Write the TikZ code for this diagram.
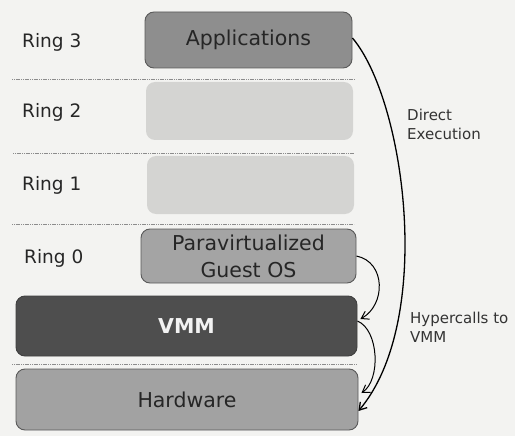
\documentclass[tikz,border=0pt]{standalone}
\usepackage{fontspec}
\setmainfont{DejaVu Sans}
\usetikzlibrary{arrows.meta}
\definecolor{paper}{HTML}{F3F3F1}
\definecolor{appfill}{HTML}{8E8E8E}
\definecolor{emptyfill}{HTML}{D4D4D2}
\definecolor{osfill}{HTML}{A4A4A4}
\definecolor{vmmfill}{HTML}{4E4E4E}
\definecolor{hwfill}{HTML}{A2A2A2}
\definecolor{edge}{HTML}{5A5A5A}
\tikzset{
  layer/.style={rectangle, rounded corners=9pt, draw=edge, line width=0.9pt,
    inner sep=0pt, align=center, text=black!85,
    font=\fontsize{20.5}{27}\selectfont},
  ringlabel/.style={anchor=west, inner sep=0pt, text=black!85,
    font=\fontsize{18.5}{22}\selectfont},
  sidenote/.style={anchor=north west, inner sep=0pt, align=left, text=black!80,
    font=\fontsize{15}{19}\selectfont},
  sep/.style={draw=black!45, line width=0.8pt, dash pattern=on 1.2pt off 0.6pt},
  flow/.style={draw=black, -{Straight Barb[length=7pt,width=9pt]}},
}
\begin{document}
\begin{tikzpicture}[x=1pt, y=-1pt]
  \fill[paper] (0,0) rectangle (515,436);
  \useasboundingbox (0,0) rectangle (515,436);

  % ring separators
  \draw[sep] (12,79) -- (355,79);
  \draw[sep] (13,153) -- (354,153);
  \draw[sep] (12,224) -- (354,224);
  \draw[sep] (12,364) -- (356,364);

  % layers
  \node[layer, fill=appfill, minimum width=207pt, minimum height=56pt] (app) at (248.5,40) {Applications};
  \node[layer, fill=emptyfill, draw=none, minimum width=207pt, minimum height=58pt] (r2) at (249.5,111) {};
  \node[layer, fill=emptyfill, draw=none, minimum width=207pt, minimum height=58pt] (r1) at (250.5,185) {};
  \node[layer, fill=osfill, minimum width=215pt, minimum height=54pt] (guest) at (248.5,256) {Paravirtualized\\Guest OS};
  \node[layer, fill=vmmfill, draw=black!75, text=white!95!black, minimum width=341pt, minimum height=60pt,
        font=\fontsize{20.5}{24}\selectfont\bfseries] (vmm) at (186.5,326) {VMM};
  \node[layer, fill=hwfill, minimum width=342pt, minimum height=61pt] (hw) at (187,399.5) {Hardware};

  % ring labels
  \node[ringlabel] (l3) at (22,42) {Ring 3};
  \node[ringlabel] (l2) at (22,112) {Ring 2};
  \node[ringlabel] (l1) at (22,185) {Ring 1};
  \node[ringlabel] (l0) at (24,258) {Ring 0};

  % side notes
  \node[sidenote] (direct) at (407,109) {Direct\\Execution};
  \node[sidenote] (hyper) at (410,312) {Hypercalls to\\VMM};

  % control flow
  \draw[flow, line width=1.3pt] ([yshift=2pt]app.east)
    .. controls (405,100) and (435,320) .. ([yshift=-11.5pt]hw.east);
  \draw[flow, line width=1pt] (guest.east)
    .. controls (386,262) and (386,305) .. ([xshift=3pt,yshift=7pt]vmm.east);
  \draw[flow, line width=1pt] ([yshift=5pt]vmm.east)
    .. controls (379,330) and (381,380) .. ([xshift=3pt,yshift=6.5pt]hw.east);
\end{tikzpicture}
\end{document}
